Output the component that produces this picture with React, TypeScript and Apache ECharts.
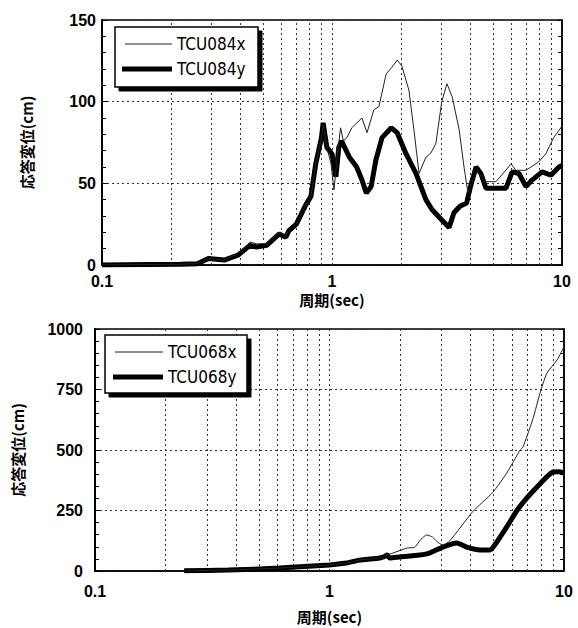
import React, { useEffect, useRef } from "react";
import * as echarts from "echarts";

// Top chart: TCU084 response displacement (cm) vs period (sec)
const tcu084x: [number, number][] = [
  [0.1, 0], [0.16, 0.3], [0.22, 0.5], [0.26, 0.8], [0.29, 4], [0.34, 3], [0.39, 7], [0.44, 14], [0.47, 13],
  [0.52, 13], [0.59, 20], [0.63, 18], [0.65, 21], [0.7, 25], [0.77, 37], [0.81, 42], [0.85, 62], [0.9, 78],
  [0.915, 86], [0.95, 72], [0.99, 62], [1.02, 46], [1.06, 70], [1.09, 84], [1.12, 76], [1.16, 78], [1.22, 84],
  [1.28, 87], [1.35, 90], [1.42, 81], [1.52, 95], [1.6, 97], [1.72, 117], [1.82, 121], [1.92, 125.5], [2.01, 122],
  [2.16, 107], [2.27, 83], [2.39, 56], [2.56, 66], [2.69, 68.5], [2.83, 74.5], [3.0, 100], [3.16, 111], [3.33, 103],
  [3.57, 83], [3.75, 60], [3.9, 44], [4.06, 50], [4.3, 58], [4.6, 51], [5.16, 51], [5.7, 58], [6.0, 62],
  [6.3, 58], [6.97, 58], [7.9, 63], [8.5, 68], [9.2, 78], [10, 85],
];
const tcu084y: [number, number][] = [
  [0.1, 0], [0.16, 0.3], [0.22, 0.5], [0.26, 0.8], [0.29, 4], [0.34, 3], [0.39, 6], [0.44, 12], [0.47, 11],
  [0.52, 12], [0.59, 19], [0.63, 17], [0.65, 21], [0.7, 25], [0.77, 37], [0.81, 42], [0.85, 62], [0.9, 78],
  [0.915, 87], [0.95, 72], [1.0, 68], [1.04, 54], [1.07, 72], [1.1, 76], [1.19, 66], [1.28, 60], [1.35, 52],
  [1.41, 44], [1.48, 48], [1.55, 64], [1.65, 78], [1.81, 84], [1.92, 81], [2.1, 68], [2.32, 56], [2.56, 40],
  [2.72, 34], [2.98, 28], [3.23, 23], [3.39, 32], [3.6, 36], [3.85, 38], [4.0, 48], [4.23, 60], [4.44, 56],
  [4.67, 47], [5.16, 47], [5.71, 47], [6.07, 57], [6.5, 56], [6.97, 48], [7.41, 52], [8.19, 57], [8.95, 55],
  [9.7, 60], [10, 61],
];

// Bottom chart: TCU068
const tcu068x: [number, number][] = [
  [0.24, 1], [0.37, 4], [0.61, 12], [1.0, 25], [1.18, 33], [1.34, 45], [1.64, 54], [1.72, 60], [1.76, 66],
  [1.86, 74], [2.15, 95], [2.3, 97], [2.45, 130], [2.6, 149], [2.75, 140], [2.87, 122], [3.04, 107], [3.26, 125],
  [4.08, 245], [4.97, 325], [5.7, 405], [6.5, 500], [6.68, 512], [7.38, 630], [7.9, 735], [8.46, 818],
  [9.34, 872], [10, 926],
];
const tcu068y: [number, number][] = [
  [0.24, 1], [0.37, 4], [0.61, 12], [1.0, 25], [1.18, 33], [1.34, 45], [1.64, 54], [1.72, 60], [1.76, 66],
  [1.81, 54], [1.99, 58], [2.42, 66], [2.67, 74], [3.04, 99], [3.49, 116], [3.85, 99], [4.38, 87], [4.83, 87],
  [5.17, 120], [5.7, 182], [6.3, 250], [6.95, 302], [7.67, 347], [8.46, 390], [9.0, 409], [9.5, 410], [10, 405],
];

const gridPeriods = [0.2, 0.3, 0.4, 0.5, 0.6, 0.7, 0.8, 0.9, 1, 2, 3, 4, 5, 6, 7, 8, 9];
const yAxisName = "応答変位(cm)";
const xAxisName = "周期(sec)";
const legendTop = ["TCU084x", "TCU084y"];
const legendBottom = ["TCU068x", "TCU068y"];

const numFont = "'Liberation Sans', Arial, sans-serif";
const cjkFont = "'Noto Sans CJK JP', sans-serif";
const legendFont = "'DejaVu Sans Condensed', 'Liberation Sans', sans-serif";

function xAxisCfg(gridIndex: number, nameGap: number, labelMargin: number) {
  return {
    type: "log",
    logBase: 10,
    min: 0.1,
    max: 10,
    gridIndex,
    name: xAxisName,
    nameLocation: "middle",
    nameGap,
    nameTextStyle: { fontFamily: cjkFont, fontWeight: "bold", fontSize: 15, color: "#000" },
    axisLine: { show: true, lineStyle: { color: "#000", width: 1.5 } },
    axisTick: { show: false },
    splitLine: { show: false },
    axisLabel: {
      margin: labelMargin,
      fontFamily: numFont,
      fontWeight: "bold",
      fontSize: 16,
      color: "#000",
      formatter: (v: number) => (v < 1 ? "0.1" : String(Math.round(v))),
    },
  };
}

function yAxisCfg(gridIndex: number, max: number, interval: number, nameGap: number, labelMargin: number, right = false) {
  return {
    type: "value",
    gridIndex,
    min: 0,
    max,
    interval,
    position: right ? "right" : "left",
    name: right ? "" : yAxisName,
    nameLocation: "middle",
    nameGap,
    nameRotate: 90,
    nameTextStyle: { fontFamily: cjkFont, fontWeight: "bold", fontSize: 15, color: "#000" },
    axisLine: { show: true, lineStyle: { color: "#000", width: right ? 1.5 : 2 } },
    axisTick: { show: true, inside: true, length: 5, lineStyle: { color: "#000", width: 1 } },
    minorTick: { show: true, splitNumber: 5, length: 4, lineStyle: { color: "#000", width: 1 } },
    splitLine: right ? { show: false } : { show: true, lineStyle: { color: "#333", width: 1, type: [2, 3] } },
    axisLabel: right
      ? { show: false }
      : {
          margin: labelMargin, fontFamily: numFont, fontWeight: "bold", fontSize: 16, color: "#000",
          formatter: (v: number) => String(v),
        },
  };
}

function gridMarkLine() {
  return {
    silent: true,
    z: 1,
    symbol: ["none", "none"],
    label: { show: false },
    lineStyle: { color: "#333", width: 1, type: [2, 3] },
    data: gridPeriods.map((v) => ({ xAxis: v })),
  };
}

function legendGraphic(id: string, bx: number, by: number, w: number, h: number, names: string[], thinX0: number, thickX0: number, lineX1: number, row1: number, row2: number, textX: number) {
  const f = `17px ${legendFont}`;
  return [
    // drop shadow (drawn behind the box)
    { id: id + "sh", type: "rect", z: 50, x: bx + 4, y: by + 4, shape: { x: 0, y: 0, width: w, height: h }, style: { fill: "rgb(0,0,0)", stroke: "rgb(0,0,0)", lineWidth: 1 } },
    {
      id: id + "shL", type: "polygon", z: 53,
      shape: { points: [[bx + w + 0.7, by + 4], [bx + w + 4, by + 4], [bx + w + 4, by + h + 4], [bx + 4, by + h + 4], [bx + 4, by + h + 0.7], [bx + w + 0.7, by + h + 0.7]] },
      style: { fill: "rgb(0,0,0)" },
    },
    {
      id: id + "box", type: "rect", z: 51, shape: { x: bx, y: by, width: w, height: h },
      style: { fill: "#ffffff", stroke: "#000", lineWidth: 1.5 },
    },
    { id: id + "l1", type: "line", z: 52, shape: { x1: thinX0, y1: row1, x2: lineX1, y2: row1 }, style: { stroke: "#222", lineWidth: 1 } },
    { id: id + "l2", type: "line", z: 52, shape: { x1: thickX0, y1: row2, x2: lineX1, y2: row2 }, style: { stroke: "#000", lineWidth: 5 } },
    { id: id + "t1", type: "text", z: 52, x: textX, y: row1, style: { text: names[0], fill: "#000", font: f, verticalAlign: "middle" } },
    { id: id + "t2", type: "text", z: 52, x: textX, y: row2, style: { text: names[1], fill: "#000", font: f, verticalAlign: "middle" } },
  ];
}

export default function App() {
  const ref = useRef<HTMLDivElement>(null);
  useEffect(() => {
    if (!ref.current) return;
    const chart = echarts.init(ref.current, undefined, { renderer: "svg" });
    chart.setOption({
      animation: false,
      backgroundColor: "#fff",
      grid: [
        { left: 102, top: 20, width: 460, height: 245, show: true, borderColor: "#000", borderWidth: 1.5, backgroundColor: "transparent" },
        { left: 95, top: 329, width: 469, height: 242, show: true, borderColor: "#000", borderWidth: 1.5, backgroundColor: "transparent" },
      ],
      xAxis: [xAxisCfg(0, 27, 8), xAxisCfg(1, 38, 12)],
      yAxis: [
        yAxisCfg(0, 150, 50, 68, 6),
        yAxisCfg(0, 150, 50, 0, 0, true),
        yAxisCfg(1, 1000, 250, 70, 12),
        yAxisCfg(1, 1000, 250, 0, 0, true),
      ],
      series: [
        {
          name: legendTop[0], type: "line", xAxisIndex: 0, yAxisIndex: 0, data: tcu084x, symbol: "none",
          lineStyle: { color: "#222", width: 1 }, z: 3, markLine: gridMarkLine(),
        },
        {
          name: legendTop[1], type: "line", xAxisIndex: 0, yAxisIndex: 0, data: tcu084y, symbol: "none",
          lineStyle: { color: "#000", width: 5 }, z: 2,
        },
        {
          name: legendBottom[0], type: "line", xAxisIndex: 1, yAxisIndex: 2, data: tcu068x, symbol: "none", smooth: 0.2,
          lineStyle: { color: "#222", width: 1 }, z: 3, markLine: gridMarkLine(),
        },
        {
          name: legendBottom[1], type: "line", xAxisIndex: 1, yAxisIndex: 2, data: tcu068y, symbol: "none", smooth: 0.2,
          lineStyle: { color: "#000", width: 5 }, z: 2,
        },
      ],
      graphic: {
        elements: [
          ...legendGraphic("lgT", 115, 27, 143, 60, legendTop, 125, 122, 172, 44, 69, 177),
          ...legendGraphic("lgB", 105, 335, 142, 58, legendBottom, 115, 113, 163, 352, 377, 168),
        ],
      },
    });
    return () => chart.dispose();
  }, []);
  return <div ref={ref} style={{ position: "absolute", left: 0, top: 0, width: 578, height: 628 }} />;
}
